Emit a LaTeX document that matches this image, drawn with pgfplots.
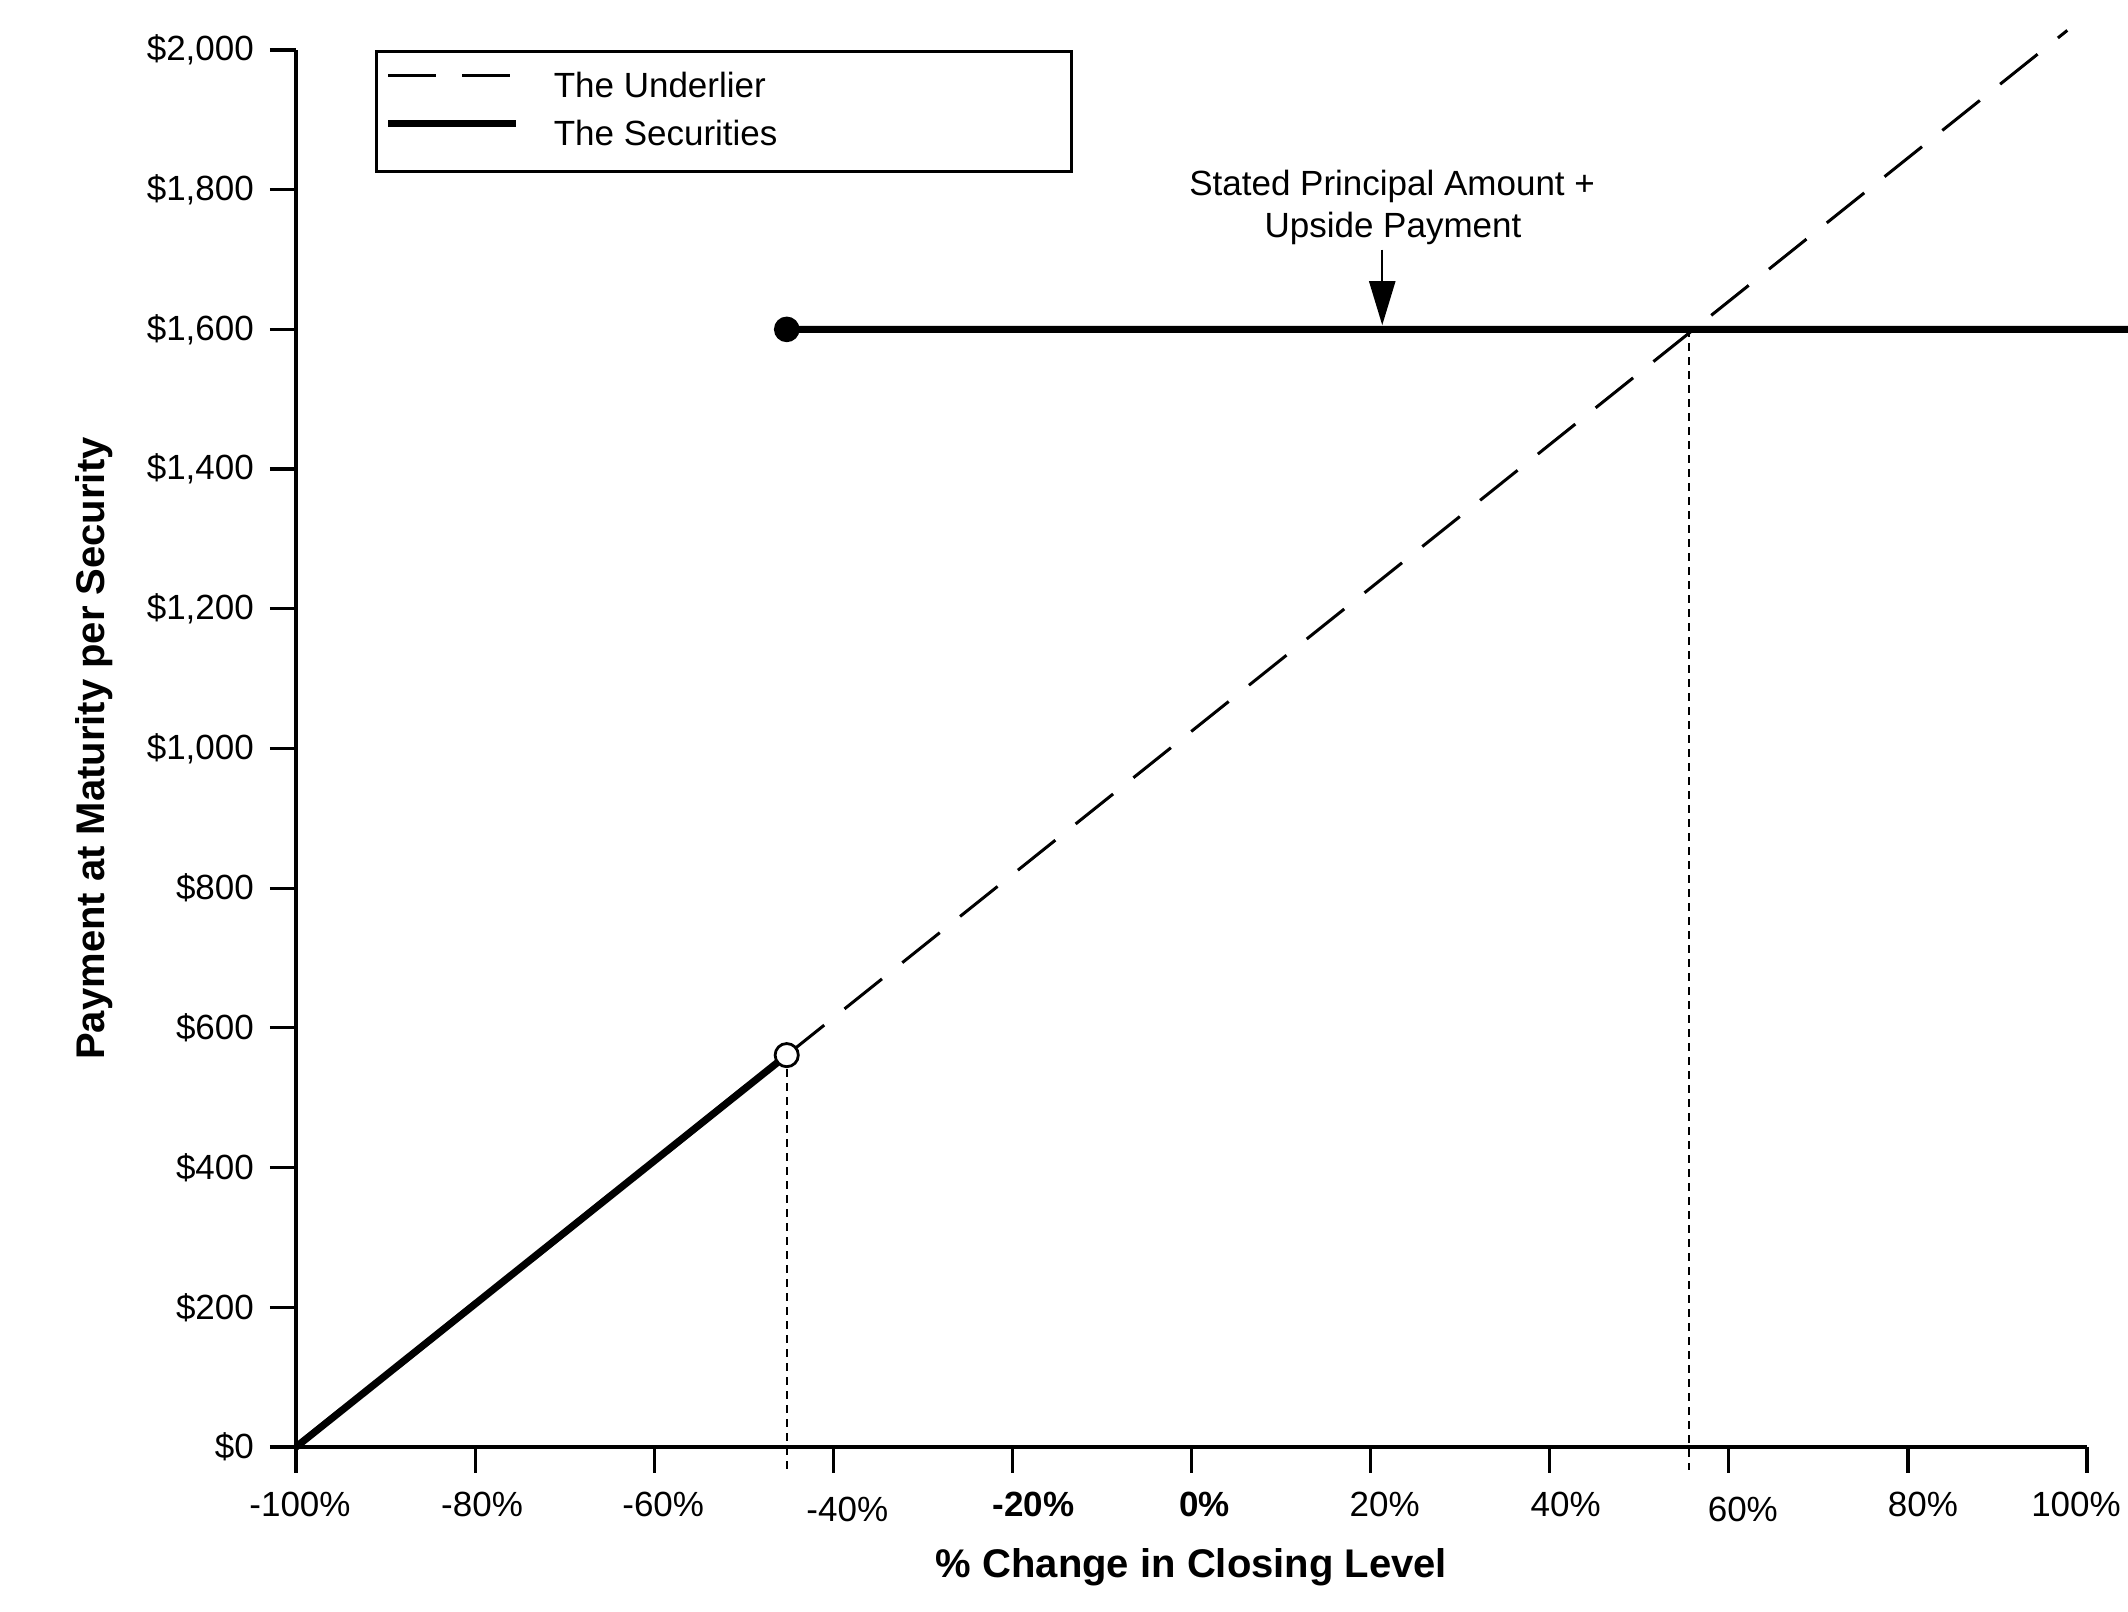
\documentclass[border=0pt]{standalone}
\usepackage{pgfplots}
\pgfplotsset{compat=1.18}
\usepackage{fontspec}
\setmainfont{Liberation Sans}
\usetikzlibrary{arrows.meta}
\newcommand{\tf}{\fontsize{8.75}{10.5}\selectfont}
\newcommand{\sh}[2]{\hspace*{#1}#2}
\begin{document}
\begin{tikzpicture}
\begin{axis}[
  name=ax,
  scale only axis,
  width=447.75pt, height=349.25pt,
  xmin=-100, xmax=100, ymin=0, ymax=2000,
  clip=false,
  axis x line*=bottom, axis y line*=left,
  axis line style={line width=0.8pt, black},
  tick align=outside,
  major tick length=6.5pt,
  tick style={line width=0.8pt, black},
  xtick={-100,-80,-60,-40,-20,0,20,40,60,80,100},
  xticklabels={\sh{2pt}{-100\%},\sh{3.5pt}{-80\%},\sh{4.5pt}{-60\%},\sh{7pt}{\raisebox{-1.2pt}{-40\%}},\sh{10.5pt}{\textbf{-20\%}},\sh{6.5pt}{\textbf{0\%}},\sh{7pt}{20\%},\sh{8pt}{40\%},\sh{7pt}{\raisebox{-1.2pt}{60\%}},\sh{7.5pt}{80\%},100\%\hspace*{5.5pt}},
  ytick={0,200,400,600,800,1000,1200,1400,1600,1800,2000},
  /pgf/number format/assume math mode=true,
  /pgf/number format/1000 sep={,},
  yticklabel={\$\pgfmathprintnumber{\tick}},
  ticklabel style={font=\tf},
  xticklabel style={anchor=base, yshift=-11pt},
  yticklabel style={anchor=east, xshift=-0.5pt},
  xlabel={\textbf{\% Change in Closing Level}},
  ylabel={\textbf{Payment at Maturity per Security}},
  label style={font=\fontsize{10}{12}\selectfont},
  every axis x label/.style={at={(rel axis cs:0.5,-0.0933)}, anchor=base},
  every axis y label/.style={at={(rel axis cs:-0.10665,0.5)}, anchor=base, rotate=90},
  legend style={at={(rel axis cs:0.0441,1)}, anchor=north west, draw=black, line width=0.8pt,
    inner xsep=2pt, inner ysep=3pt, font=\tf,
    nodes={inner sep=2pt, text height=6.5pt, text depth=1.5pt},
    /tikz/column sep=6.5pt},
  legend cell align=left,
  legend image code/.code={\draw[#1] (0pt,3pt) -- (32pt,3pt);},
]
% The Underlier
\addplot[black, line width=0.75pt, dash pattern=on 12pt off 6.5pt] coordinates {(-45.2,561) (97.8,2028)};
\addlegendentry{\makebox[125.5pt][l]{The Underlier}}
% The Securities
\addplot[black, line width=1.8pt, unbounded coords=jump] coordinates {(-100,0) (-45.2,561) (-45.2,nan) (-45.2,1600) (104.6,1600)};
\addlegendentry{\makebox[125.5pt][l]{The Securities}}
% dotted verticals
\addplot[black, line width=0.5pt, dash pattern=on 2pt off 1.5pt, forget plot] coordinates {(-45.2,561) (-45.2,-33)};
\addplot[black, line width=0.5pt, dash pattern=on 2pt off 1.5pt, forget plot] coordinates {(55.5,1600) (55.5,-33)};
% markers
\addplot[only marks, mark=*, mark size=3pt, black, forget plot] coordinates {(-45.2,1600)};
\addplot[only marks, mark=*, mark size=2.9pt, mark options={fill=white, draw=black, line width=0.7pt}, forget plot] coordinates {(-45.2,561)};
% annotation
\node[anchor=base, font=\tf] at (axis cs:22.4,1792) {Stated Principal Amount +};
\node[anchor=base, font=\tf] at (axis cs:22.5,1731) {Upside Payment};
\draw[black, line width=0.6pt, -{Triangle[length=11pt,width=6.5pt]}] (axis cs:21.3,1714) -- (axis cs:21.3,1606);
\end{axis}
\pgfresetboundingbox
\path[use as bounding box] ([shift={(-74pt,-41.25pt)}]ax.south west) rectangle ([shift={(458pt,361.75pt)}]ax.south west);
\end{tikzpicture}
\end{document}
